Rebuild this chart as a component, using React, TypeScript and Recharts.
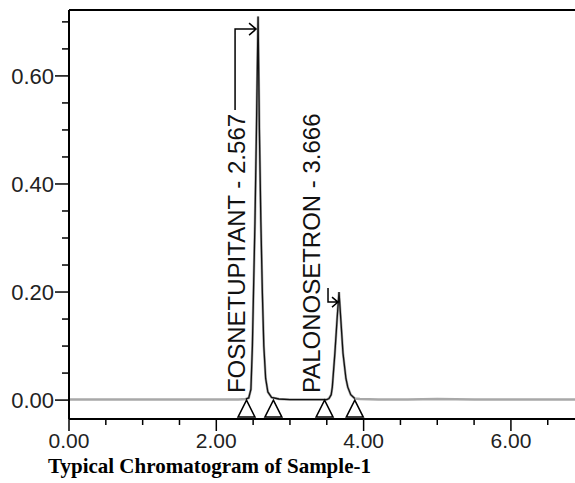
import React from 'react';
import { ComposedChart, Line, Scatter, XAxis, YAxis, ReferenceLine } from 'recharts';

// retention time (min) and detector response (AU)
const times = [0, 0.5, 1.0, 1.5, 2.0, 2.3, 2.40, 2.44, 2.47, 2.49, 2.505, 2.525, 2.545, 2.567, 2.585, 2.605, 2.625, 2.645, 2.67, 2.70, 2.75, 2.85, 3.0, 3.3, 3.50, 3.53, 3.56, 3.575, 3.61, 3.64, 3.666, 3.69, 3.72, 3.76, 3.785, 3.825, 3.88, 3.95, 4.2, 4.6, 5.0, 5.5, 6.0, 6.5, 6.87];
const absorbance = [0.001, 0.001, 0.001, 0.001, 0.001, 0.001, 0.002, 0.004, 0.02, 0.1, 0.2, 0.33, 0.5, 0.71, 0.5, 0.33, 0.2, 0.1, 0.04, 0.015, 0.005, 0.002, 0.001, 0.001, 0.001, 0.003, 0.01, 0.024, 0.087, 0.15, 0.2, 0.15, 0.087, 0.04, 0.024, 0.01, 0.003, 0.002, 0.001, 0.001, 0.002, 0.001, 0.001, 0.001, 0.001];

const peakNames = ['FOSNETUPITANT - 2.567', 'PALONOSETRON - 3.666'];
const peakTimes = [2.567, 3.666];
// integration start/end markers
const markerTimes = [2.41, 2.775, 3.47, 3.88];

const xTicks = [0, 0.5, 1, 1.5, 2, 2.5, 3, 3.5, 4, 4.5, 5, 5.5, 6, 6.5];
const xLabelled = [0, 2, 4, 6];
const yTicks = [0, 0.05, 0.1, 0.15, 0.2, 0.25, 0.3, 0.35, 0.4, 0.45, 0.5, 0.55, 0.6, 0.65, 0.7];
const yLabelled = [0, 0.2, 0.4, 0.6];

const X_MAX = 6.87;
const Y_MIN = -0.035;
const Y_MAX = 0.722;

const data = times.map((t, i) => ({
  t,
  v: absorbance[i],
  dark: t >= 2.4 && t <= 3.9 ? absorbance[i] : null,
}));
const peaks = peakTimes.map((t, i) => ({ t, v: 0, name: peakNames[i] }));
const markers = markerTimes.map((t) => ({ t, v: 0 }));

const tickFont = { fontFamily: '"Liberation Sans", Arial, sans-serif', fontSize: 21, fill: '#222' };

const YTick = ({ x, y, payload }: any) => {
  const major = yLabelled.some((v) => Math.abs(v - payload.value) < 1e-6);
  return (
    <g>
      <line x1={x - (major ? 14 : 7)} x2={x} y1={y} y2={y} stroke="#000" strokeWidth={1.5} />
      {major && (
        <text x={x - 15} y={y + 8} textAnchor="end" {...tickFont} fontSize={22}>
          {payload.value.toFixed(2)}
        </text>
      )}
    </g>
  );
};

const XTick = ({ x, y, payload }: any) => {
  const major = xLabelled.some((v) => Math.abs(v - payload.value) < 1e-6);
  return (
    <g>
      <line x1={x} x2={x} y1={y} y2={y + (major ? 12 : 6)} stroke="#000" strokeWidth={1.5} />
      {major && (
        <text x={x} y={y + 29} textAnchor="middle" {...tickFont}>
          {payload.value.toFixed(2)}
        </text>
      )}
    </g>
  );
};

const Marker = ({ cx, cy }: any) => (
  <path d={`M${cx},${cy} L${cx + 8.5},${cy + 17} L${cx - 8.5},${cy + 17} Z`} fill="none" stroke="#000" strokeWidth={1.5} />
);

const PeakLabel = ({ cx, cy, payload }: any) => {
  const first = payload.name === peakNames[0];
  const tx = first ? cx - 13 : cx - 19;
  const ty = cy - 7;
  const arrow = first
    ? `M${cx - 23},${cy - 290} V${cy - 371} H${cx - 2} M${cx - 9},${cy - 377} L${cx - 2},${cy - 371} L${cx - 9},${cy - 365}`
    : `M${cx - 11},${cy - 112} V${cy - 98} H${cx - 1} M${cx - 7},${cy - 103} L${cx - 1},${cy - 98} L${cx - 7},${cy - 93}`;
  return (
    <g>
      <text
        x={tx}
        y={ty}
        transform={`rotate(-90 ${tx} ${ty})`}
        textAnchor="start"
        fontFamily='"Liberation Sans", Arial, sans-serif'
        fontSize={24}
        fill="#111"
      >
        {payload.name}
      </text>
      <path d={arrow} fill="none" stroke="#000" strokeWidth={1.5} />
    </g>
  );
};

export default function App() {
  return (
    <div style={{ position: 'absolute', left: 0, top: 0, width: 575, height: 483, background: '#fff', overflow: 'hidden' }}>
      <ComposedChart width={575} height={483} data={data} margin={{ top: 10, right: 0, bottom: 0, left: 0 }}>
        <XAxis
          type="number"
          dataKey="t"
          domain={[0, X_MAX]}
          ticks={xTicks}
          allowDataOverflow
          height={64}
          axisLine={{ stroke: '#000', strokeWidth: 2 }}
          tickLine={false}
          tickSize={0}
          tickMargin={0}
          tick={<XTick />}
          interval={0}
        />
        <YAxis
          type="number"
          domain={[Y_MIN, Y_MAX]}
          ticks={yTicks}
          allowDataOverflow
          width={69}
          axisLine={{ stroke: '#000', strokeWidth: 2 }}
          tickLine={false}
          tickSize={0}
          tickMargin={0}
          tick={<YTick />}
          interval={0}
        />
        <ReferenceLine y={Y_MAX} stroke="#000" strokeWidth={2} />
        <Line type="linear" dataKey="v" stroke="#a8a8a8" strokeWidth={2.5} dot={false} isAnimationActive={false} />
        <Line type="linear" dataKey="dark" stroke="#111" strokeWidth={1.3} dot={false} connectNulls={false} isAnimationActive={false} />
        <Scatter data={markers} dataKey="v" shape={<Marker />} isAnimationActive={false} />
        <Scatter data={peaks} dataKey="v" shape={<PeakLabel />} isAnimationActive={false} />
      </ComposedChart>
      <div
        style={{
          position: 'absolute',
          left: 0,
          top: 453,
          width: 575,
          height: 30,
          background: '#fff',
          fontFamily: '"Liberation Serif", "Times New Roman", serif',
          fontWeight: 'bold',
          fontSize: 21,
          lineHeight: '24px',
          paddingLeft: 48,
          paddingTop: 1,
          boxSizing: 'border-box',
          color: '#000',
        }}
      >
        Typical Chromatogram of Sample-1
      </div>
    </div>
  );
}
